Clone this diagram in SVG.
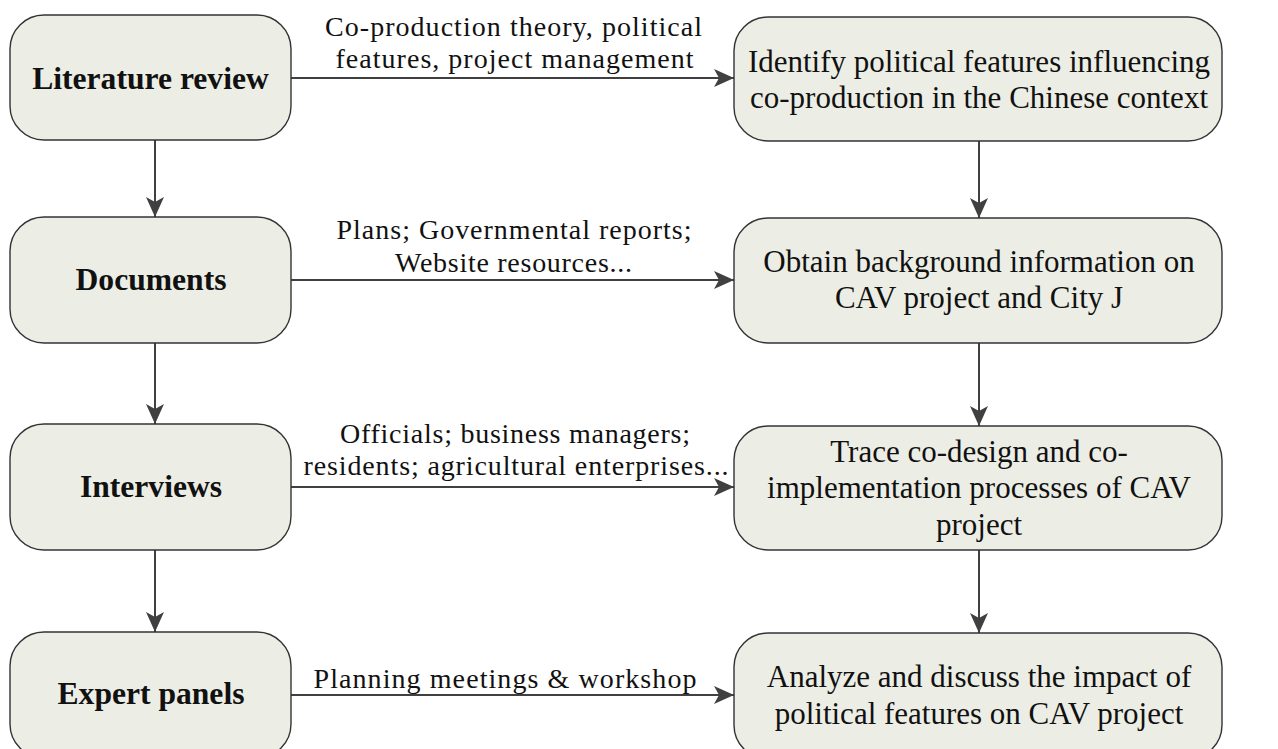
<svg xmlns="http://www.w3.org/2000/svg" width="1278" height="749" viewBox="0 0 1278 749">
<style>
.box{fill:#ECEEE5;stroke:#333333;stroke-width:1.4}
.lt{font-family:"Liberation Serif",serif;font-weight:bold;font-size:31.6px;fill:#111;text-anchor:middle}
.rt{font-family:"Liberation Serif",serif;font-size:31px;fill:#111;text-anchor:middle}
.el{font-family:"Liberation Serif",serif;font-size:28px;fill:#111;text-anchor:middle}
.ar{stroke:#404040;stroke-width:2;fill:none;marker-end:url(#ah)}
</style>
<defs>
<marker id="ah" viewBox="0 0 20 18" refX="20" refY="9" markerWidth="20" markerHeight="18" markerUnits="userSpaceOnUse" orient="auto">
<path d="M0,0 L20,9 L0,18 L5,9 Z" fill="#404040"/>
</marker>
</defs>
<rect width="1278" height="749" fill="#ffffff"/>
<g id="connectors">
<line class="ar" x1="291" y1="78" x2="734" y2="78"/>
<line class="ar" x1="291" y1="280" x2="734" y2="280"/>
<line class="ar" x1="291" y1="487" x2="734" y2="487"/>
<line class="ar" x1="291" y1="695" x2="734" y2="695"/>
<line class="ar" x1="155" y1="140" x2="155" y2="217"/>
<line class="ar" x1="155" y1="343" x2="155" y2="424"/>
<line class="ar" x1="155" y1="550" x2="155" y2="632"/>
<line class="ar" x1="979" y1="141" x2="979" y2="218"/>
<line class="ar" x1="979" y1="343" x2="979" y2="426"/>
<line class="ar" x1="979" y1="550" x2="979" y2="633"/>
<text class="el" x="513.5" y="36" textLength="377" lengthAdjust="spacing">Co-production theory, political</text>
<text class="el" x="514.5" y="68" textLength="358" lengthAdjust="spacing">features, project management</text>
<text class="el" x="514" y="239" textLength="355" lengthAdjust="spacing">Plans; Governmental reports;</text>
<text class="el" x="513.5" y="272" textLength="237" lengthAdjust="spacing">Website resources...</text>
<text class="el" x="515" y="443" textLength="350" lengthAdjust="spacing">Officials; business managers;</text>
<text class="el" x="516" y="475" textLength="425" lengthAdjust="spacing">residents; agricultural enterprises...</text>
<text class="el" x="505" y="688" textLength="383" lengthAdjust="spacing">Planning meetings &amp; workshop</text>
</g>
<g id="n1"><rect class="box" x="10" y="15" width="281" height="125" rx="34"/><text class="lt" x="150.5" y="89">Literature review</text></g>
<g id="n2"><rect class="box" x="10" y="217" width="281" height="126" rx="34"/><text class="lt" x="151" y="290">Documents</text></g>
<g id="n3"><rect class="box" x="10" y="424" width="281" height="126" rx="34"/><text class="lt" x="151" y="497">Interviews</text></g>
<g id="n4"><rect class="box" x="10" y="632" width="281" height="126" rx="34"/><text class="lt" x="151" y="704">Expert panels</text></g>
<g id="r1"><rect class="box" x="734" y="17" width="488" height="124" rx="34"/><text class="rt" x="979" y="72">Identify political features influencing</text><text class="rt" x="979" y="108">co-production in the Chinese context</text></g>
<g id="r2"><rect class="box" x="734" y="218" width="488" height="125" rx="34"/><text class="rt" x="979" y="272">Obtain background information on</text><text class="rt" x="979" y="308">CAV project and City J</text></g>
<g id="r3"><rect class="box" x="734" y="426" width="488" height="124" rx="34"/><text class="rt" x="979" y="462">Trace co-design and co-</text><text class="rt" x="979" y="498">implementation processes of CAV</text><text class="rt" x="979" y="535">project</text></g>
<g id="r4"><rect class="box" x="734" y="633" width="488" height="126" rx="34"/><text class="rt" x="979" y="687">Analyze and discuss the impact of</text><text class="rt" x="979" y="724">political features on CAV project</text></g>
</svg>
